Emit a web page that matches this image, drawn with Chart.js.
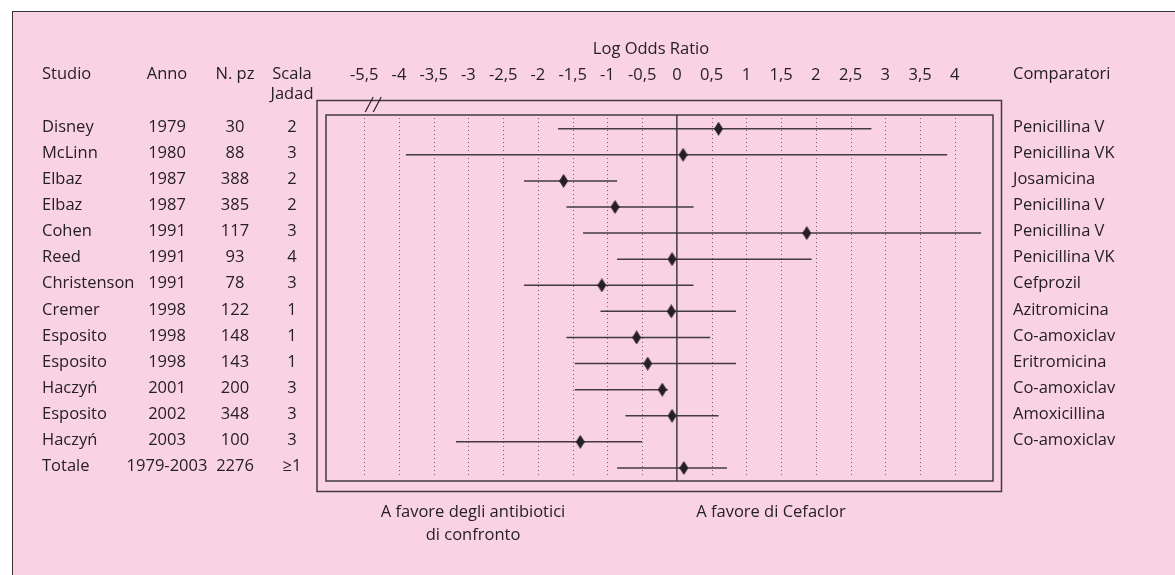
<!DOCTYPE html>
<html>
<head>
<meta charset="utf-8">
<script src="https://cdn.jsdelivr.net/npm/chart.js@4.4.0/dist/chart.umd.min.js"></script>
<style>
html, body { margin: 0; padding: 0; background: #fff; }
#panel { position: absolute; left: 12px; top: 11px; right: 0; bottom: 0; background: #f9d3e4;
  border-left: 1px solid #3a3336; border-top: 1px solid #3a3336; }
#wrap { position: absolute; left: 0; top: 0; width: 1175px; height: 575px; }
</style>
</head>
<body>
<div id="panel"></div>
<div id="wrap"><canvas id="forest"></canvas></div>
<script>
// Forest plot - Cefaclor vs antibiotici di confronto (log odds ratio)
const studies = ['Disney', 'McLinn', 'Elbaz', 'Elbaz', 'Cohen', 'Reed', 'Christenson', 'Cremer',
    'Esposito', 'Esposito', 'Haczyń', 'Esposito', 'Haczyń', 'Totale'];
const years = ['1979', '1980', '1987', '1987', '1991', '1991', '1991', '1998',
    '1998', '1998', '2001', '2002', '2003', '1979-2003'];
const patients = ['30', '88', '388', '385', '117', '93', '78', '122', '148', '143', '200', '348', '100', '2276'];
const jadad = ['2', '3', '2', '2', '3', '4', '3', '1', '1', '1', '3', '3', '3', '≥1'];
const comparators = ['Penicillina V', 'Penicillina VK', 'Josamicina', 'Penicillina V', 'Penicillina V',
    'Penicillina VK', 'Cefprozil', 'Azitromicina', 'Co-amoxiclav', 'Eritromicina', 'Co-amoxiclav',
    'Amoxicillina', 'Co-amoxiclav'];

const logOR = [0.60, 0.09, -1.63, -0.89, 1.87, -0.07, -1.08, -0.08, -0.58, -0.42, -0.21, -0.07, -1.39, 0.10];
const ciLow = [-1.71, -3.90, -2.20, -1.59, -1.35, -0.86, -2.20, -1.10, -1.59, -1.47, -1.47, -0.74, -3.18, -0.86];
const ciHigh = [2.80, 3.89, -0.86, 0.24, 4.38, 1.94, 0.24, 0.85, 0.48, 0.85, -0.13, 0.60, -0.50, 0.72];

// axis is broken on the left: the first tick stands for -5,5
const tickValues = [-4.5, -4, -3.5, -3, -2.5, -2, -1.5, -1, -0.5, 0, 0.5, 1, 1.5, 2, 2.5, 3, 3.5, 4];
const tickLabels = ['-5,5', '-4', '-3,5', '-3', '-2,5', '-2', '-1,5', '-1', '-0,5', '0',
    '0,5', '1', '1,5', '2', '2,5', '3', '3,5', '4'];

const FONT = '"Open Sans", "DejaVu Sans", sans-serif';
const INK = '#262023';
const LINE = '#433a3f';

// elongated diamond marker
function diamond() {
    const c = document.createElement('canvas');
    c.width = 9; c.height = 14;
    const g = c.getContext('2d');
    g.fillStyle = INK;
    g.beginPath();
    g.moveTo(4.5, 0); g.lineTo(9, 7); g.lineTo(4.5, 14); g.lineTo(0, 7);
    g.closePath(); g.fill();
    return c;
}

const decor = {
    id: 'decor',
    beforeDatasetsDraw(chart) {
        const { ctx, chartArea: a, scales: { x } } = chart;
        ctx.save();
        // dotted grid
        ctx.strokeStyle = '#6f6468';
        ctx.lineWidth = 1;
        ctx.setLineDash([1, 3]);
        tickValues.forEach(v => {
            if (v === 0) return;
            const px = Math.round(x.getPixelForValue(v)) + 0.5;
            ctx.beginPath(); ctx.moveTo(px, a.top + 3); ctx.lineTo(px, a.bottom - 3); ctx.stroke();
        });
        ctx.setLineDash([]);
        // zero line
        ctx.strokeStyle = LINE;
        ctx.lineWidth = 1.5;
        const z = x.getPixelForValue(0);
        ctx.beginPath(); ctx.moveTo(z, a.top); ctx.lineTo(z, a.bottom); ctx.stroke();
        // inner and outer frame
        ctx.strokeRect(a.left, a.top, a.right - a.left, a.bottom - a.top);
        ctx.strokeRect(a.left - 9, a.top - 14.5, a.right - a.left + 17.5, a.bottom - a.top + 25);
        // axis break marks
        const b = x.getPixelForValue(-4.5);
        ctx.lineWidth = 1.2;
        ctx.strokeStyle = INK;
        [1, 9].forEach(d => {
            ctx.beginPath(); ctx.moveTo(b + d, a.top - 3); ctx.lineTo(b + d + 8, a.top - 18); ctx.stroke();
        });
        ctx.restore();
    },
    afterDraw(chart) {
        const { ctx, chartArea: a, scales: { y } } = chart;
        ctx.save();
        ctx.fillStyle = INK;
        ctx.font = '16.5px ' + FONT;
        ctx.textBaseline = 'middle';
        // headers
        ctx.textAlign = 'left';
        ctx.fillText('Studio', 42, 74);
        ctx.fillText('Comparatori', 1013, 74);
        ctx.textAlign = 'center';
        ctx.fillText('Anno', 167, 74);
        ctx.fillText('N. pz', 235, 74);
        ctx.fillText('Scala', 292, 74);
        ctx.fillText('Jadad', 292, 94);
        ctx.fillText('Log Odds Ratio', 651, 49);
        // table rows
        studies.forEach((s, i) => {
            const py = y.getPixelForValue(i) - 1.5;
            ctx.textAlign = 'left';
            ctx.fillText(s, 42, py);
            if (comparators[i]) ctx.fillText(comparators[i], 1013, py);
            ctx.textAlign = 'center';
            ctx.fillText(years[i], 167, py);
            ctx.fillText(patients[i], 235, py);
            ctx.fillText(jadad[i], 292, py);
        });
        // footnotes
        ctx.textAlign = 'center';
        ctx.fillText('A favore degli antibiotici', 473, a.bottom + 31);
        ctx.fillText('di confronto', 473, a.bottom + 54);
        ctx.fillText('A favore di Cefaclor', 771, a.bottom + 31);
        ctx.restore();
    }
};

const ciSets = studies.map((s, i) => ({
    data: [{ x: ciLow[i], y: i }, { x: ciHigh[i], y: i }],
    showLine: true,
    borderColor: LINE,
    borderWidth: 1.5,
    pointRadius: 0,
    order: 1
}));

const marker = diamond();
const pointSet = {
    data: logOR.map((v, i) => ({ x: v, y: i })),
    pointStyle: marker,
    pointRadius: 6,
    order: 0
};

new Chart(document.getElementById('forest'), {
    type: 'scatter',
    data: { datasets: [pointSet, ...ciSets] },
    options: {
        responsive: true,
        maintainAspectRatio: false,
        animation: false,
        events: [],
        layout: { padding: { left: 326, right: 182, top: 55, bottom: 94 } },
        plugins: { legend: { display: false }, tooltip: { enabled: false } },
        scales: {
            x: {
                type: 'linear',
                position: 'top',
                min: -5.05,
                max: 4.55,
                afterBuildTicks: s => { s.ticks = tickValues.map(v => ({ value: v })); },
                afterFit: s => { s.height = 60; },
                grid: { display: false, drawTicks: false },
                border: { display: false },
                ticks: {
                    autoSkip: false,
                    maxRotation: 0,
                    padding: 30,
                    color: INK,
                    font: { family: FONT, size: 16.5 },
                    callback: (v, i) => tickLabels[i]
                }
            },
            y: {
                type: 'linear',
                min: -0.525,
                max: 13.5,
                reverse: true,
                display: false
            }
        }
    },
    plugins: [decor]
});
</script>
</body>
</html>
